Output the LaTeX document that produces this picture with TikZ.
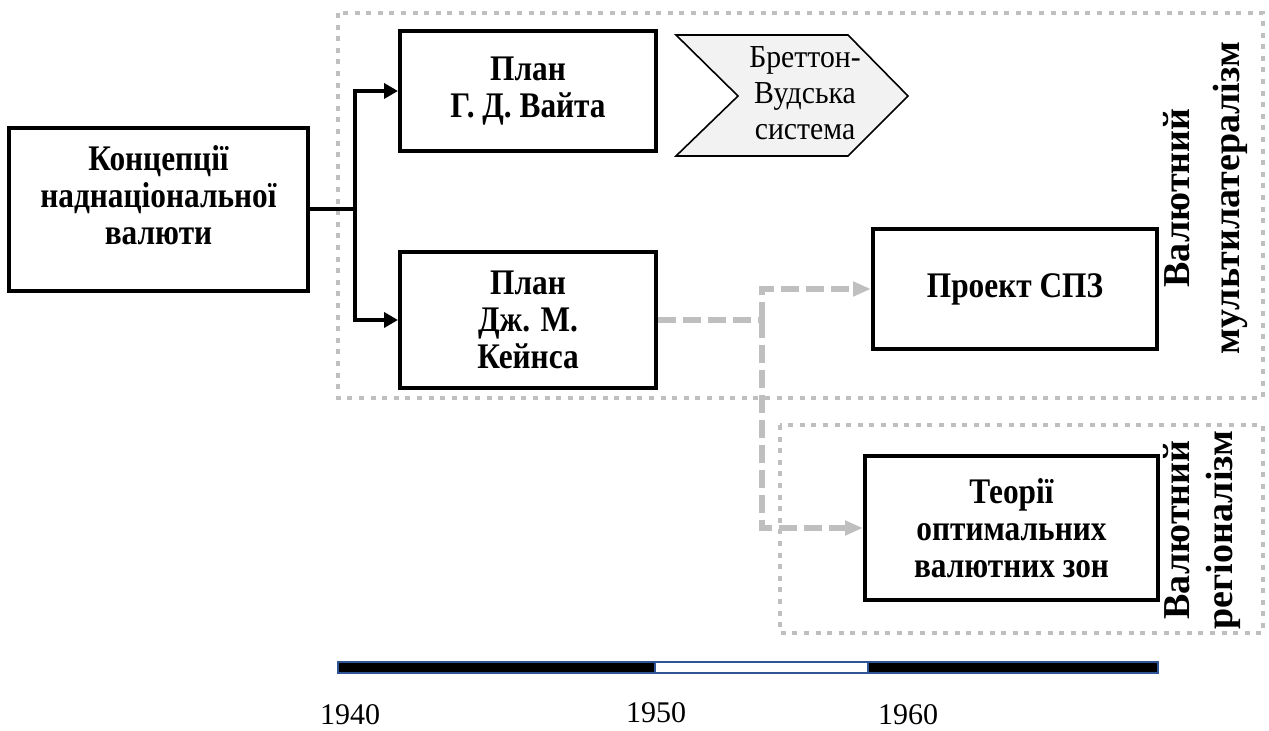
\documentclass[tikz,border=0pt]{standalone}
\usepackage{fontspec}
\setmainfont{Liberation Serif}
\newfontfamily\condserif[FakeStretch=0.87]{Liberation Serif}
\newfontfamily\chevserif[FakeStretch=0.93]{Liberation Serif}
\usetikzlibrary{arrows.meta}
\definecolor{dotgray}{HTML}{BFBFBF}
\definecolor{chevfill}{HTML}{F2F2F2}
\definecolor{barblue}{HTML}{2F5597}
\begin{document}
\begin{tikzpicture}[x=0.5pt,y=-0.5pt,
  box/.style={draw, line width=2pt, inner sep=0pt, font=\condserif\fontsize{18}{18.5}\selectfont\bfseries, align=center},
  btext/.style={font=\condserif\fontsize{18}{18.5}\selectfont\bfseries, align=center, inner sep=0pt},
  rtext/.style={font=\chevserif\fontsize{16}{18}\selectfont, align=center, inner sep=0pt},
  vtext/.style={font=\fontsize{19}{#1}\selectfont\bfseries, align=center, rotate=90, inner sep=0pt},
  zone/.style={draw=dotgray, line width=2.3pt, dash pattern=on 2.5pt off 3.3pt},
  flow/.style={line width=2pt, -{Triangle[length=7pt,width=7.5pt]}},
  link/.style={draw=dotgray, line width=3.3pt, dash pattern=on 9pt off 3.5pt},
  linkarrow/.style={link, -{Triangle[length=9pt,width=7pt]}, dotgray},
  yearlbl/.style={font=\fontsize{15}{18}\selectfont, inner sep=0pt}
]
\fill[white] (0,0) rectangle (1269,731);
\useasboundingbox (0,0) rectangle (1269,731);

% zones
\draw[zone] (338,13) rectangle (1263,398);
\draw[zone] (780,425) rectangle (1263,633);

% boxes
\node[box, minimum width=149.5pt, minimum height=81.5pt] (left) at (158.5,209.5) {};
\node[btext] (lefttext) at (158.5,195) {Концепції\\наднаціональної\\валюти};
\node[box, minimum width=128pt, minimum height=60pt] (vaita) at (528,91) {План\\Г. Д. Вайта};
\node[box, minimum width=128pt, minimum height=68pt] (keynes) at (528,320) {План\\Дж. М.\\Кейнса};
\node[box, minimum width=142pt, minimum height=60pt] (spz) at (1015,289) {Проект СПЗ};
\node[box, minimum width=146.5pt, minimum height=72pt] (teor) at (1011.5,528) {Теорії\\оптимальних\\валютних зон};

% chevron
\draw[fill=chevfill, line width=0.8pt, line join=miter] (676,35) -- (848,35) -- (908,96) -- (848,156) -- (676,156) -- (738,96) -- cycle;
\node[rtext] (bw) at (805,93) {Бреттон-\\Вудська\\система};

% vertical labels
\node[vtext=25] (multi) at (1206,198) {Валютний\\мультилатералізм};
\node[vtext=21.5] (region) at (1202,530) {Валютний\\регіоналізм};

% black connectors
\coordinate (fork) at (355,209.5);
\draw[line width=2pt] (left.east) -- (fork);
\draw[flow] (fork) |- (vaita.west);
\draw[flow] (fork) |- (keynes.west);

% gray dashed connectors
\coordinate (j) at (762,320);
\draw[link] (keynes.east) -- (j);
\draw[linkarrow] (j) |- (spz.west);
\draw[linkarrow] (j) |- (teor.west);

% timeline
\draw[barblue, line width=1pt, fill=black] (338,662) rectangle (655,673);
\draw[barblue, line width=1pt, fill=white] (655,662) rectangle (868,673);
\draw[barblue, line width=1pt, fill=black] (868,662) rectangle (1158,673);
\node[yearlbl] (y1940) at (350,715) {1940};
\node[yearlbl] (y1950) at (656,713) {1950};
\node[yearlbl] (y1960) at (908,715) {1960};
\end{tikzpicture}
\end{document}
